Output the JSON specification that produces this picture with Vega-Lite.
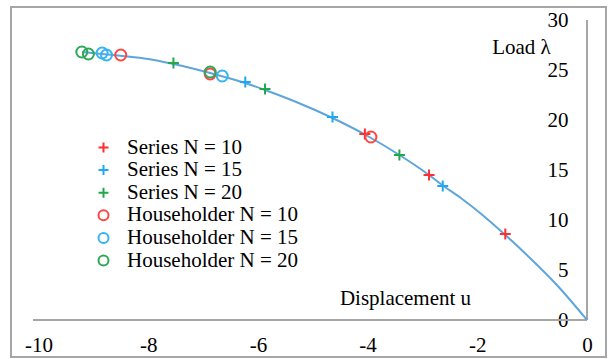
{
  "$schema": "https://vega.github.io/schema/vega-lite/v6.json",
  "width": 595,
  "height": 350,
  "autosize": {"type": "none"},
  "padding": {"left": 11, "top": 7, "right": 2, "bottom": 2},
  "background": "white",
  "config": {
    "view": {"stroke": "#a6a6a6", "strokeWidth": 2},
    "font": "Liberation Serif",
    "axis": {
      "grid": false, "domain": false, "ticks": false, "tickSize": 0,
      "labelFont": "Liberation Serif", "labelFontSize": 21, "labelColor": "#000",
      "titleFont": "Liberation Serif", "titleFontSize": 21, "titleFontWeight": "normal", "titleColor": "#000"
    }
  },
  "datasets": {
    "xaxis": [{"u": -10.1, "u2": 0, "lam": 0}],
    "yaxis": [{"u": 0, "lam": 0, "lam2": 30}],
    "curve": [
      {"u": 0, "lam": 0}, {"u": -0.55, "lam": 3.5}, {"u": -1.04, "lam": 6.2}, {"u": -1.49, "lam": 8.5},
      {"u": -1.95, "lam": 10.7}, {"u": -2.3, "lam": 12.2}, {"u": -2.64, "lam": 13.5}, {"u": -2.88, "lam": 14.5},
      {"u": -3.42, "lam": 16.5}, {"u": -4.0, "lam": 18.4}, {"u": -4.64, "lam": 20.2}, {"u": -5.3, "lam": 21.8},
      {"u": -5.87, "lam": 23.0}, {"u": -6.23, "lam": 23.7}, {"u": -6.87, "lam": 24.7}, {"u": -7.54, "lam": 25.6},
      {"u": -8.0, "lam": 26.1}, {"u": -8.47, "lam": 26.4}, {"u": -8.85, "lam": 26.6}, {"u": -9.2, "lam": 26.8}
    ],
    "pts": [
      {"label": "Series N = 10", "u": -4.05, "lam": 18.6},
      {"label": "Series N = 10", "u": -2.88, "lam": 14.5},
      {"label": "Series N = 10", "u": -1.49, "lam": 8.6},
      {"label": "Series N = 15", "u": -6.23, "lam": 23.8},
      {"label": "Series N = 15", "u": -4.64, "lam": 20.3},
      {"label": "Series N = 15", "u": -2.63, "lam": 13.4},
      {"label": "Series N = 20", "u": -7.54, "lam": 25.7},
      {"label": "Series N = 20", "u": -5.87, "lam": 23.1},
      {"label": "Series N = 20", "u": -3.42, "lam": 16.5},
      {"label": "Householder N = 10", "u": -8.5, "lam": 26.5},
      {"label": "Householder N = 10", "u": -6.87, "lam": 24.6},
      {"label": "Householder N = 10", "u": -3.94, "lam": 18.3},
      {"label": "Householder N = 15", "u": -8.84, "lam": 26.7},
      {"label": "Householder N = 15", "u": -8.76, "lam": 26.5},
      {"label": "Householder N = 15", "u": -6.65, "lam": 24.4},
      {"label": "Householder N = 20", "u": -9.21, "lam": 26.8},
      {"label": "Householder N = 20", "u": -9.09, "lam": 26.6},
      {"label": "Householder N = 20", "u": -6.87, "lam": 24.8}
    ]
  },
  "encoding": {
    "x": {
      "field": "u", "type": "quantitative",
      "scale": {"domain": [-10.501, 0.346], "nice": false, "zero": false},
      "axis": {
        "orient": "bottom", "offset": -37, "values": [-10, -8, -6, -4, -2, 0], "labelPadding": 14,
        "labelExpr": "'' + datum.value",
        "title": "Displacement u", "titleX": 394, "titleY": -22, "titleAlign": "center", "titleBaseline": "middle", "titleAngle": 0
      }
    },
    "y": {
      "field": "lam", "type": "quantitative",
      "scale": {"domain": [-3.7, 31.3], "nice": false, "zero": false},
      "axis": {
        "orient": "left", "offset": -576, "values": [0, 5, 10, 15, 20, 25, 30], "labelPadding": 19,
        "title": "Load λ", "titleX": -66, "titleY": 40, "titleAlign": "center", "titleBaseline": "middle", "titleAngle": 0
      }
    }
  },
  "layer": [
    {
      "data": {"name": "xaxis"},
      "mark": {"type": "rule", "color": "#a6a6a6", "strokeWidth": 2},
      "encoding": {"x2": {"field": "u2"}}
    },
    {
      "data": {"name": "yaxis"},
      "mark": {"type": "rule", "color": "#a6a6a6", "strokeWidth": 2},
      "encoding": {"y2": {"field": "lam2"}}
    },
    {
      "data": {"name": "curve"},
      "mark": {"type": "line", "color": "#5ea5dc", "strokeWidth": 2, "interpolate": "monotone"},
      "encoding": {"order": {"field": "u", "type": "quantitative", "sort": "descending"}}
    },
    {
      "data": {"name": "pts"},
      "mark": {"type": "point", "filled": false, "strokeWidth": 2, "size": 121, "opacity": 1},
      "encoding": {
        "color": {
          "field": "label", "type": "nominal",
          "scale": {
            "domain": ["Series N = 10", "Series N = 15", "Series N = 20", "Householder N = 10", "Householder N = 15", "Householder N = 20"],
            "range": ["#ff2e2e", "#1fa8ef", "#22a84a", "#ff4545", "#35b4f0", "#2ea858"]
          },
          "legend": {
            "orient": "none", "legendX": 82, "legendY": 130, "title": null, "padding": 0,
            "labelFont": "Liberation Serif", "labelFontSize": 21, "labelColor": "#000", "labelLimit": 400,
            "rowPadding": 0.6, "labelOffset": 13, "symbolStrokeWidth": 2, "symbolSize": 100
          }
        },
        "shape": {
          "field": "label", "type": "nominal",
          "scale": {
            "domain": ["Series N = 10", "Series N = 15", "Series N = 20", "Householder N = 10", "Householder N = 15", "Householder N = 20"],
            "range": ["M-1,0H1M0,-1V1", "M-1,0H1M0,-1V1", "M-1,0H1M0,-1V1", "circle", "circle", "circle"]
          }
        }
      }
    }
  ]
}
